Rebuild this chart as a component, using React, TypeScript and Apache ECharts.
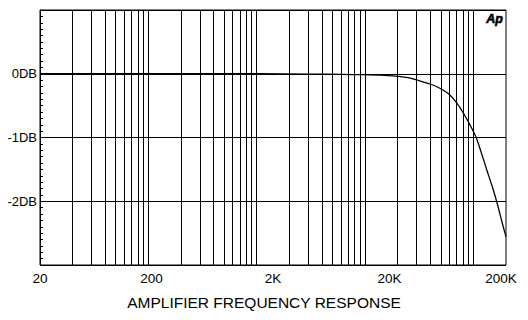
import React, { useEffect, useRef } from "react";
import * as echarts from "echarts";

// Frequency (Hz) and response (dB)
const freqs = [10, 20, 100, 1000, 3000, 6000, 10000, 14000, 20000, 25000, 29000, 38600, 47600, 59000, 70500, 81000, 93500, 106000, 120000, 133000, 150000, 165000, 184000, 200000];
const levels = [0, 0, 0, 0, -0.005, -0.01, -0.015, -0.02, -0.04, -0.06, -0.09, -0.155, -0.215, -0.315, -0.46, -0.62, -0.81, -1.0, -1.27, -1.51, -1.78, -2.02, -2.33, -2.56];

// Vertical grid lines (Hz)
const freqGrid = [20, 30, 40, 50, 60, 70, 80, 90, 100, 200, 300, 400, 500, 600, 700, 800, 900, 1000, 2000, 3000, 4000, 5000, 6000, 7000, 8000, 9000, 10000, 20000, 30000, 40000, 50000, 60000, 70000, 80000, 90000, 100000];

// Tick labels
const xTickLabels = ["20", "200", "2K", "20K", "200K"];
const yTickLabels: Record<string, string> = { "0": "0DB", "-1": "-1DB", "-2": "-2DB" };

const title = "AMPLIFIER FREQUENCY RESPONSE";
const FONT = "'Liberation Sans', Arial, sans-serif";

export default function App() {
  const ref = useRef<HTMLDivElement>(null);
  useEffect(() => {
    if (!ref.current) return;
    const chart = echarts.init(ref.current, undefined, { renderer: "svg" });
    chart.setOption({
      animation: false,
      backgroundColor: "#ffffff",
      textStyle: { fontFamily: FONT },
      grid: {
        left: 40,
        top: 10,
        right: 22,
        bottom: 55,
        show: true,
        borderColor: "#000",
        borderWidth: 1,
        backgroundColor: "transparent",
      },
      xAxis: [
        {
          type: "log",
          min: 10,
          max: 200000,
          position: "bottom",
          axisLine: { show: false },
          axisTick: { show: false },
          axisLabel: { show: false },
          splitLine: { show: false },
          minorSplitLine: { show: false },
        },
        {
          type: "value",
          min: 0,
          max: 4,
          interval: 1,
          position: "bottom",
          axisLine: { show: false },
          axisTick: { show: false },
          splitLine: { show: false },
          axisLabel: {
            color: "#000",
            fontSize: 13.5,
            fontFamily: FONT,
            margin: 6,
            formatter: (v: number) => {
              const t = xTickLabels[Math.round(v)] ?? "";
              if (v === 1 || v === 4) return `{s|${t}}`;
              return t;
            },
            rich: {
              s: { fontSize: 13.5, fontFamily: FONT, color: "#000", padding: [0, 10, 0, 0] },
            },
          },
        },
      ],
      yAxis: {
        type: "value",
        min: -3,
        max: 1,
        interval: 1,
        axisLine: { show: true, lineStyle: { color: "#000", width: 1 } },
        axisTick: { show: true, inside: true, length: 3, lineStyle: { color: "#000" } },
        minorTick: { show: true, splitNumber: 10, length: 3, lineStyle: { color: "#000" } },
        splitLine: { show: true, lineStyle: { color: "#000", width: 1 } },
        axisLabel: {
          color: "#000",
          fontSize: 13,
          fontFamily: FONT,
          margin: 3,
          formatter: (v: number) => yTickLabels[String(Math.round(v))] ?? "",
        },
      },
      title: {
        text: title,
        left: "center",
        top: 294,
        textStyle: { fontSize: 15.5, fontWeight: "normal", color: "#000", fontFamily: FONT },
        padding: 0,
      },
      graphic: [
        {
          type: "text",
          left: 486,
          top: 12,
          style: {
            text: "Ap",
            fontSize: 12.5,
            fontWeight: 900,
            fontStyle: "italic",
            fontFamily: FONT,
            fill: "#000",
            stroke: "#000",
            lineWidth: 0.6,
          },
        },
      ],
      series: [
        {
          type: "line",
          xAxisIndex: 0,
          data: freqs.map((f, i) => [f, levels[i]]),
          showSymbol: false,
          smooth: 0.3,
          lineStyle: { color: "#000", width: 1.3 },
          z: 5,
          markLine: {
            silent: true,
            symbol: "none",
            label: { show: false },
            lineStyle: { color: "#000", width: 1, type: "solid" },
            data: freqGrid.map((f) => ({ xAxis: f })),
          },
        },
      ],
    });
    return () => chart.dispose();
  }, []);
  return (
    <div
      ref={ref}
      style={{ position: "fixed", left: 0, top: 0, width: 528, height: 320, background: "#fff" }}
    />
  );
}
